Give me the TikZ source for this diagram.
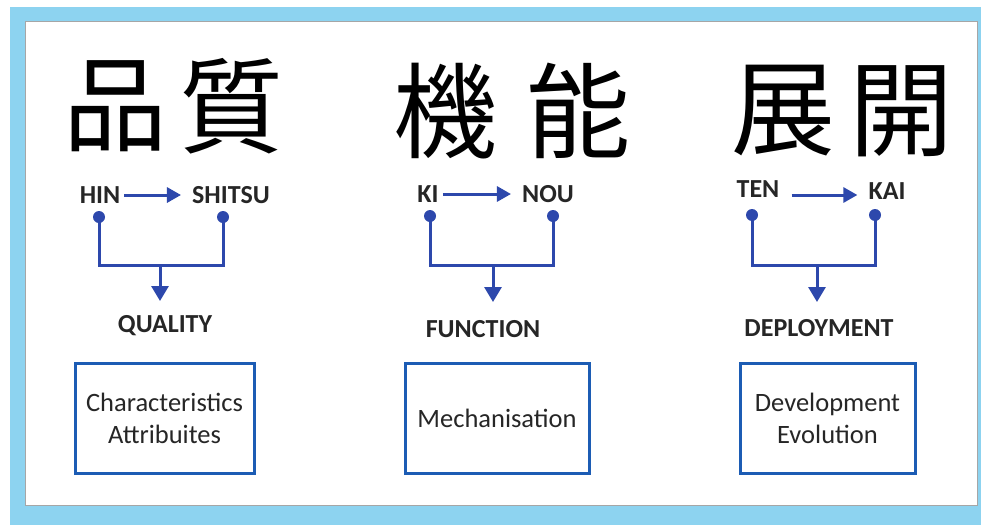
\documentclass[tikz,border=0pt]{standalone}
\usepackage{fontspec}
\setmainfont{Carlito}
\newfontfamily\cjk{Noto Sans CJK JP}
\usetikzlibrary{arrows.meta}
\definecolor{frameblue}{HTML}{8DD3F0}
\definecolor{arrowblue}{HTML}{2D48AC}
\definecolor{boxblue}{HTML}{1C5CB4}
\definecolor{txt}{HTML}{262626}
\tikzset{
  kanji/.style={font=\cjk\fontsize{104}{104}\selectfont, text=black, inner sep=0pt},
  lbl/.style={font=\bfseries\fontsize{26}{26}\selectfont, text=txt, inner sep=2pt},
  harrow/.style={draw=arrowblue, line width=3pt, -{Triangle[length=14pt,width=15pt]}, shorten <=2pt, shorten >=9pt},
  link/.style={draw=arrowblue, line width=3pt},
  stem/.style={draw=arrowblue, line width=3pt, -{Triangle[length=15pt,width=17pt]}},
  dot/.style={circle, fill=arrowblue, inner sep=0pt, minimum size=12pt},
  infobox/.style={draw=boxblue, line width=3pt, fill=white, align=center, text=txt,
    font=\fontsize{26.5}{32}\selectfont, minimum height=110pt},
}
\begin{document}
\begin{tikzpicture}[x=1pt,y=-1pt]
\useasboundingbox (0,0) rectangle (981,525);
% frame
\fill[frameblue] (10,7) rectangle (981,525);
\fill[white] (25,21) rectangle (977,505);
\draw[gray!70, line width=1pt] (25,21) rectangle (977,505);

% ---------- column 1 ----------
\node[kanji] (k1a) at (115,106) {品};
\node[kanji] (k1b) at (231,106) {質};
\node[lbl] (hin) at (100,195) {HIN};
\node[lbl] (shitsu) at (231,195) {SHITSU};
\draw[harrow] (hin) -- (shitsu);
\node[dot] (d1a) at (99,217) {};
\node[dot] (d1b) at (223,217) {};
\coordinate (j1) at (160,265);
\draw[link] (d1a.center) |- (j1) -| (d1b.center);
\node[lbl] (quality) at (165,326) {QUALITY};
\coordinate (t1) at (160,301);
\draw[stem] (j1) -- (t1);
\node[infobox, minimum width=179pt] (b1) at (164.5,418) {Characteristics\\Attribuites};

% ---------- column 2 ----------
\node[kanji] (k2a) at (445,111) {機};
\node[kanji] (k2b) at (578,111) {能};
\node[lbl] (ki) at (428,194) {KI};
\node[lbl] (nou) at (548,194) {NOU};
\draw[harrow] (ki) -- (nou);
\node[dot] (d2a) at (430,216) {};
\node[dot] (d2b) at (553,216) {};
\coordinate (j2) at (493,265);
\draw[link] (d2a.center) |- (j2) -| (d2b.center);
\node[lbl] (function) at (483,329) {FUNCTION};
\coordinate (t2) at (493,302);
\draw[stem] (j2) -- (t2);
\node[infobox, minimum width=184pt] (b2) at (497,418) {Mechanisation};

% ---------- column 3 ----------
\node[kanji] (k3a) at (783,111) {展};
\node[kanji] (k3b) at (901,111) {開};
\node[lbl] (ten) at (758,189) {TEN};
\node[lbl] (kai) at (887,191) {KAI};
\draw[harrow, shorten <=10pt] (ten.east |- 0,195) -- (kai.west |- 0,195);
\node[dot] (d3a) at (752,215) {};
\node[dot] (d3b) at (875,215) {};
\coordinate (j3) at (817,265);
\draw[link] (d3a.center) |- (j3) -| (d3b.center);
\node[lbl] (deploy) at (819,328) {DEPLOYMENT};
\coordinate (t3) at (817,302);
\draw[stem] (j3) -- (t3);
\node[infobox, minimum width=175pt] (b3) at (827.5,418) {Development\\Evolution};
\end{tikzpicture}
\end{document}
